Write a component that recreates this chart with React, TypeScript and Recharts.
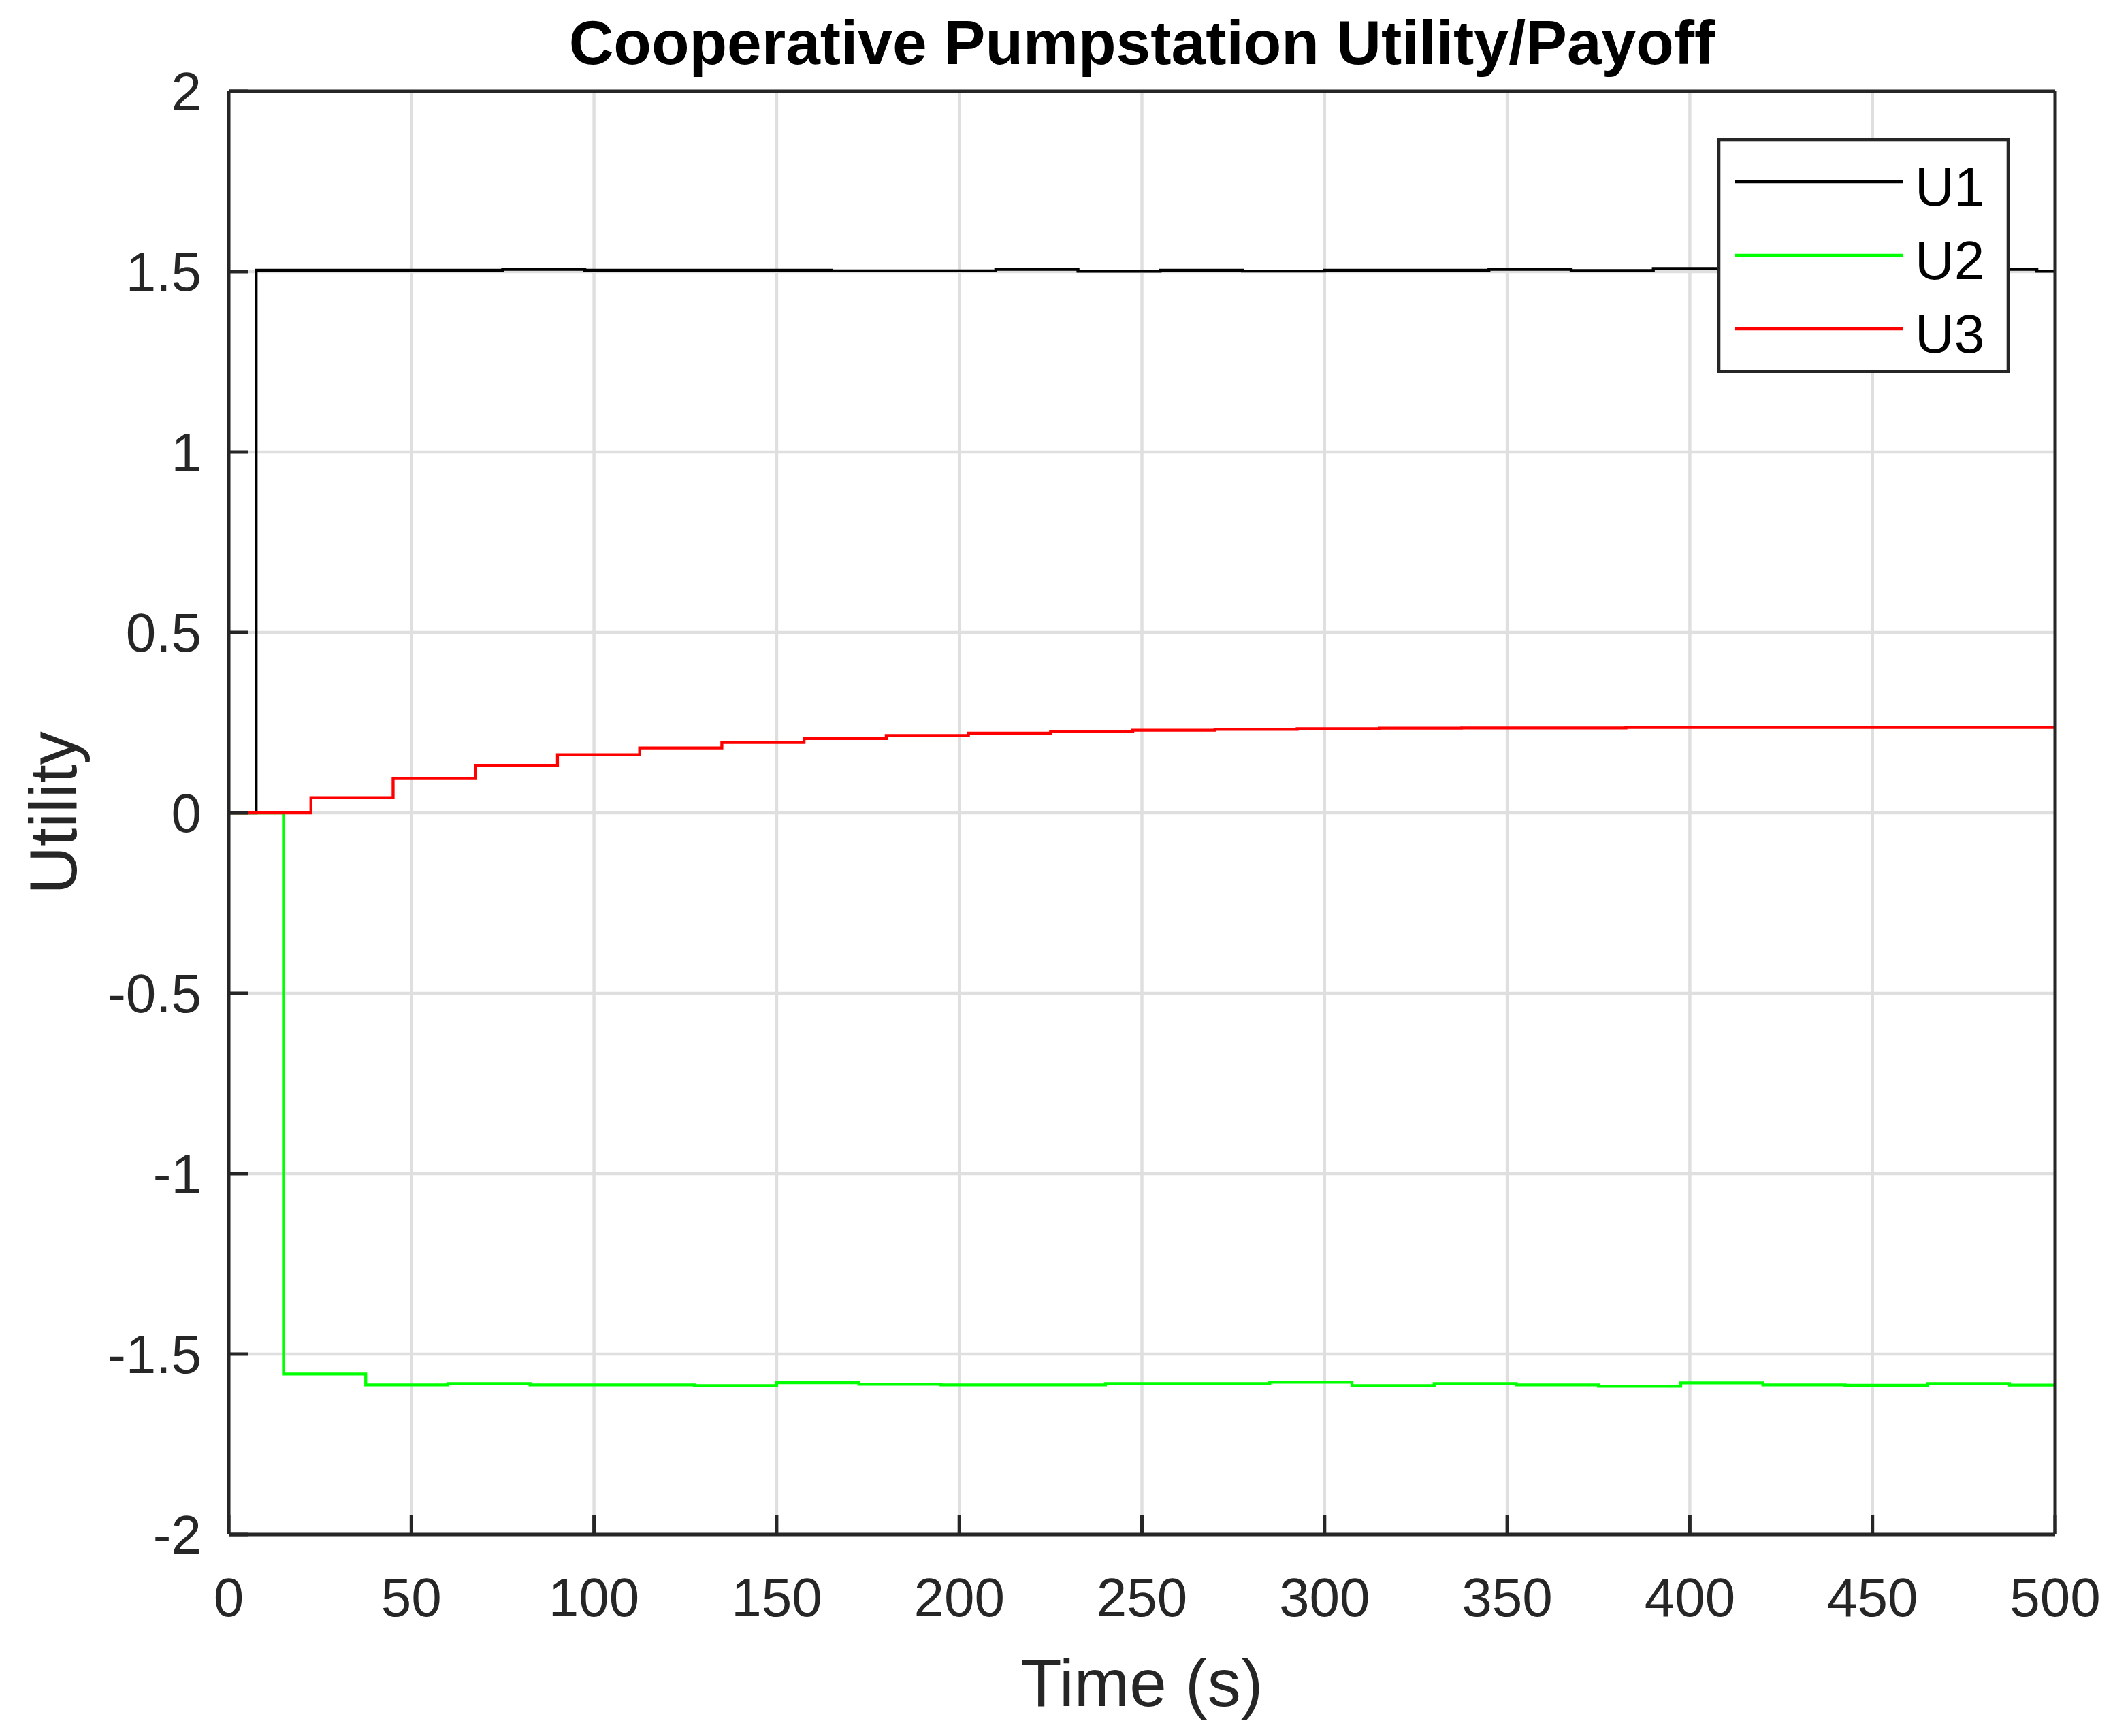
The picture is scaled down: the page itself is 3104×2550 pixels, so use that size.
import { LineChart, Line, XAxis, YAxis, CartesianGrid, Legend, Label } from 'recharts'

// step times (s) and utility
const u1Times = [0, 7.5, 75, 97.5, 165, 210, 232.5, 255, 277.5, 300, 345, 367.5, 390, 412.5, 495, 500]
const u1Values = [0, 1.504, 1.5066, 1.504, 1.502, 1.5066, 1.501, 1.504, 1.5016, 1.504, 1.5066, 1.503, 1.5085, 1.5066, 1.501, 1.501]

const u2Times = [0, 15, 37.5, 60, 82.5, 105, 127.5, 150, 172.5, 195, 217.5, 240, 262.5, 285, 307.5, 330, 352.5, 375, 397.5, 420, 442.5, 465, 487.5, 500]
const u2Values = [0, -1.5553, -1.5855, -1.5818, -1.5855, -1.5855, -1.5874, -1.5792, -1.5836, -1.5855, -1.5855, -1.5818, -1.5818, -1.578, -1.5874, -1.5818, -1.5855, -1.5893, -1.58, -1.5855, -1.5868, -1.5818, -1.586, -1.586]

const u3Times = [0, 22.5, 45, 67.5, 90, 112.5, 135, 157.5, 180, 202.5, 225, 247.5, 270, 292.5, 315, 337.5, 382.5, 500]
const u3Values = [0, 0.042, 0.095, 0.132, 0.161, 0.18, 0.195, 0.206, 0.2145, 0.2208, 0.2252, 0.229, 0.2314, 0.2333, 0.2346, 0.235, 0.2365, 0.2365]

const timeTicks = [0, 50, 100, 150, 200, 250, 300, 350, 400, 450, 500]
const utilityTicks = [-2, -1.5, -1, -0.5, 0, 0.5, 1, 1.5, 2]

const seriesNames = ['U1', 'U2', 'U3']
const seriesColors = ['#000000', '#00ff00', '#ff0000']

const toPoints = (times: number[], values: number[]) => times.map((t, i) => ({ t, u: values[i] }))

const series = [
  { name: seriesNames[0], color: seriesColors[0], data: toPoints(u1Times, u1Values) },
  { name: seriesNames[1], color: seriesColors[1], data: toPoints(u2Times, u2Values) },
  { name: seriesNames[2], color: seriesColors[2], data: toPoints(u3Times, u3Values) },
]

const FONT = '"Liberation Sans", Arial, Helvetica, sans-serif'
const AXIS = '#262626'
const W = 3096
const H = 2542
const TICK_LEN = 29 // inward tick marks, matlab style
const X_GAP = 63
const Y_GAP = 40
const STROKE = 5

const XTick = ({ x, y, payload }: any) => (
  <g>
    <line x1={x} x2={x} y1={y - X_GAP} y2={y - X_GAP - TICK_LEN} stroke={AXIS} strokeWidth={STROKE} />
    <text x={x} y={y} dy="0.71em" textAnchor="middle" fontSize={80} fontFamily={FONT} fill={AXIS}>
      {payload.value}
    </text>
  </g>
)

const YTick = ({ x, y, payload }: any) => (
  <g>
    <line x1={x + Y_GAP} x2={x + Y_GAP + TICK_LEN} y1={y} y2={y} stroke={AXIS} strokeWidth={STROKE} />
    <text x={x} y={y} dy="0.355em" textAnchor="end" fontSize={80} fontFamily={FONT} fill={AXIS}>
      {payload.value}
    </text>
  </g>
)

const TopTick = ({ x, y }: any) => (
  <line x1={x} x2={x} y1={y} y2={y + TICK_LEN} stroke={AXIS} strokeWidth={STROKE} />
)

const RightTick = ({ x, y }: any) => (
  <line x1={x} x2={x - TICK_LEN} y1={y} y2={y} stroke={AXIS} strokeWidth={STROKE} />
)

const renderTitle = (props: any) => {
  const vb = props.viewBox ?? { x: 328, y: 125, width: 2683, height: 1 }
  return (
    <text
      x={vb.x + vb.width / 2}
      y={vb.y - 39}
      textAnchor="middle"
      fontSize={91}
      fontWeight="bold"
      fontFamily={FONT}
      fill="#000"
    >
      Cooperative Pumpstation Utility/Payoff
    </text>
  )
}

const renderYLabel = (props: any) => {
  const vb = props.viewBox ?? { x: 0, y: 126, width: 328, height: 2120 }
  const x = vb.x + 104
  const y = vb.y + vb.height / 2
  return (
    <text
      x={x}
      y={y}
      transform={`rotate(-90, ${x}, ${y})`}
      textAnchor="middle"
      fontSize={98}
      fontFamily={FONT}
      fill={AXIS}
    >
      Utility
    </text>
  )
}

const renderLegend = () => (
  <svg width={429} height={345} style={{ display: 'block' }}>
    <rect x={2.15} y={2.15} width={424.7} height={340.7} fill="#fff" stroke={AXIS} strokeWidth={4.3} />
    {series.map((s, i) => (
      <g key={s.name}>
        <line x1={25} x2={273} y1={64 + i * 108} y2={64 + i * 108} stroke={s.color} strokeWidth={4.5} />
        <text x={290} y={99 + i * 108} fontSize={80} fontFamily={FONT} fill="#000">
          {s.name}
        </text>
      </g>
    ))}
  </svg>
)

export default function App() {
  const axisLine = { stroke: AXIS, strokeWidth: STROKE }

  return (
    <LineChart width={W} height={H} margin={{ top: 125, right: 84, bottom: 0, left: 0 }}>
      <CartesianGrid stroke="#dfdfdf" strokeWidth={4.5} />
      <XAxis
        dataKey="t"
        type="number"
        domain={[0, 500]}
        ticks={timeTicks}
        interval={0}
        height={296}
        tickSize={0}
        tickMargin={X_GAP}
        tick={<XTick />}
        axisLine={axisLine}
        tickLine={false}
      >
        <Label value="Time (s)" position="insideBottom" offset={44} fontSize={98} fontFamily={FONT} fill={AXIS} />
      </XAxis>
      <XAxis
        xAxisId="top"
        orientation="top"
        type="number"
        domain={[0, 500]}
        ticks={timeTicks}
        interval={0}
        height={1}
        tickSize={0}
        tickMargin={0}
        tick={<TopTick />}
        axisLine={axisLine}
        tickLine={false}
      >
        <Label content={renderTitle} />
      </XAxis>
      <YAxis
        type="number"
        domain={[-2, 2]}
        ticks={utilityTicks}
        interval={0}
        width={328}
        tickSize={0}
        tickMargin={Y_GAP}
        tick={<YTick />}
        axisLine={axisLine}
        tickLine={false}
      >
        <Label content={renderYLabel} />
      </YAxis>
      <YAxis
        yAxisId="right"
        orientation="right"
        type="number"
        domain={[-2, 2]}
        ticks={utilityTicks}
        interval={0}
        width={1}
        tickSize={0}
        tickMargin={0}
        tick={<RightTick />}
        axisLine={axisLine}
        tickLine={false}
      />
      {series.map((s) => (
        <Line
          key={s.name}
          data={s.data}
          dataKey="u"
          name={s.name}
          type="stepAfter"
          stroke={s.color}
          strokeWidth={4.3}
          dot={false}
          activeDot={false}
          isAnimationActive={false}
        />
      ))}
      <Legend
        layout="horizontal"
        verticalAlign="middle"
        align="center"
        wrapperStyle={{ left: 2515, top: 195, width: 429, height: 345 }}
        content={renderLegend}
      />
    </LineChart>
  )
}
